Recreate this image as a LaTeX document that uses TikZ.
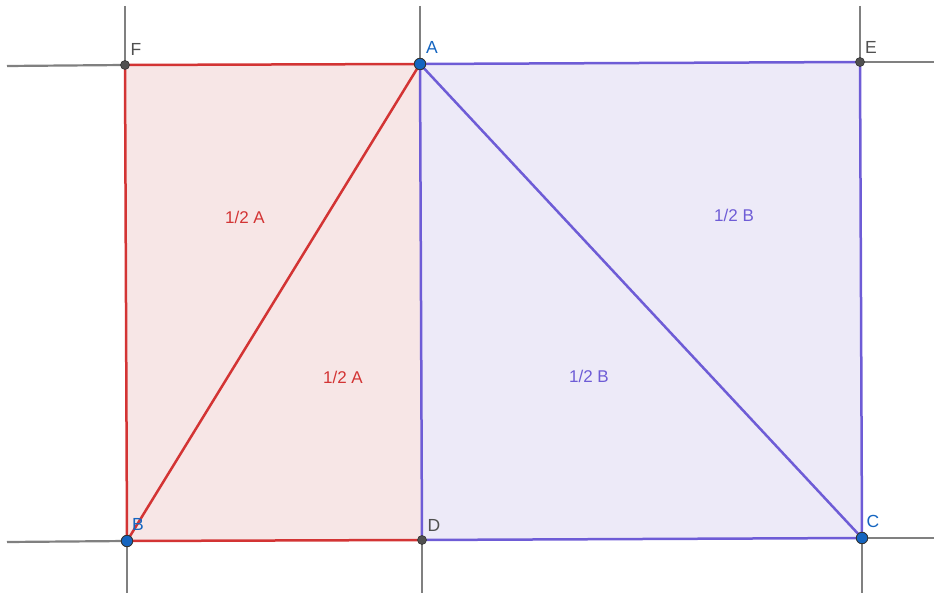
\documentclass[tikz,border=0pt]{standalone}
\usepackage{fontspec}
\setmainfont{Liberation Sans}
\begin{document}
\begin{tikzpicture}[x=1pt,y=-1pt,
  redln/.style={draw=geored,line width=2.5pt},
  purln/.style={draw=geopur,line width=2.5pt},
  grayln/.style={draw=geogray,line width=2.2pt},
  bluept/.style={circle,fill=geoblue,draw=black!80,line width=0.9pt,inner sep=0pt,minimum size=11.5pt},
  graypt/.style={circle,fill=geodark,draw=black!80,line width=0.6pt,inner sep=0pt,minimum size=9pt},
  lbl/.style={font=\fontsize{17.5}{18}\selectfont},
  area/.style={font=\fontsize{17}{18}\selectfont}]
\definecolor{geored}{RGB}{211,52,52}
\definecolor{geopur}{RGB}{110,92,214}
\definecolor{georedfill}{RGB}{247,230,230}
\definecolor{geopurfill}{RGB}{237,234,248}
\definecolor{geogray}{RGB}{128,128,128}
\definecolor{geodark}{RGB}{80,80,80}
\definecolor{geoblue}{RGB}{21,101,192}
\useasboundingbox (0,0) rectangle (934,593);
\coordinate (F) at (125,65);
\coordinate (A) at (420,64);
\coordinate (E) at (860,62);
\coordinate (B) at (127,541);
\coordinate (D) at (422,540);
\coordinate (C) at (862,538);
\coordinate (Ftop) at (125,6);
\coordinate (Fleft) at (7,66);
\coordinate (Atop) at (420,6);
\coordinate (Etop) at (860,6);
\coordinate (Eright) at (934,62);
\coordinate (Bleft) at (7,542);
\coordinate (Bbot) at (127,593);
\coordinate (Dbot) at (422,593);
\coordinate (Cright) at (934,538);
\coordinate (Cbot) at (862,593);
% fills
\fill[georedfill] (F) -- (A) -- (D) -- (B) -- cycle;
\fill[geopurfill] (A) -- (E) -- (C) -- (D) -- cycle;
% gray lines
\draw[grayln] (Ftop) -- (F);
\draw[grayln] (Fleft) -- (F);
\draw[grayln] (Atop) -- (A);
\draw[grayln] (Etop) -- (E);
\draw[grayln] (Eright) -- (E);
\draw[grayln] (Bleft) -- (B);
\draw[grayln] (Bbot) -- (B);
\draw[grayln] (Dbot) -- (D);
\draw[grayln] (Cright) -- (C);
\draw[grayln] (Cbot) -- (C);
% red
\draw[redln] (F) -- (A);
\draw[redln] (F) -- (B);
\draw[redln] (B) -- (D);
\draw[redln] (A) -- (B);
% purple
\draw[purln] (A) -- (E);
\draw[purln] (E) -- (C);
\draw[purln] (C) -- (D);
\draw[purln] (D) -- (A);
\draw[purln] (A) -- (C);
% points
\node[graypt] (pF) at (F) {};
\node[graypt] (pE) at (E) {};
\node[graypt] (pD) at (D) {};
\node[bluept] (pA) at (A) {};
\node[bluept] (pB) at (B) {};
\node[bluept] (pC) at (C) {};
% labels
\node[lbl,text=geodark] (lF) at (136,49) {F};
\node[lbl,text=geoblue] (lA) at (432,47) {A};
\node[lbl,text=geodark] (lE) at (871,47) {E};
\node[lbl,text=geoblue] (lB) at (138,524) {B};
\node[lbl,text=geodark] (lD) at (434,525) {D};
\node[lbl,text=geoblue] (lC) at (873,521) {C};
\node[area,text=geored] (t1) at (245,217) {1/2 A};
\node[area,text=geored] (t2) at (343,377) {1/2 A};
\node[area,text=geopur] (t3) at (734,215) {1/2 B};
\node[area,text=geopur] (t4) at (589,376) {1/2 B};
\end{tikzpicture}
\end{document}
